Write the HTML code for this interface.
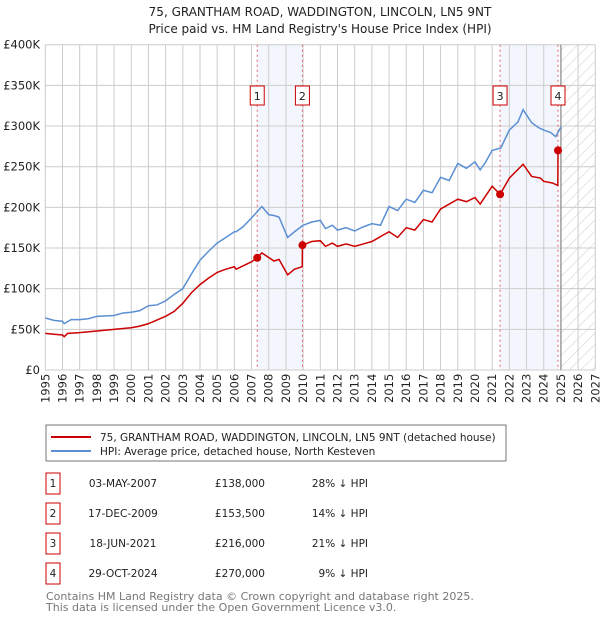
<!DOCTYPE html>
<html><head><meta charset="utf-8"><style>
body{margin:0;background:#fff;font-family:"Liberation Sans","DejaVu Sans",sans-serif;}
svg text{font-family:"DejaVu Sans","Liberation Sans",sans-serif;}
</style></head><body>
<svg id="chart" width="600" height="620" viewBox="0 0 600 620" xmlns="http://www.w3.org/2000/svg">
<defs><pattern id="hatch" width="8" height="8" patternUnits="userSpaceOnUse" patternTransform="rotate(45)"><line x1="0" y1="0" x2="0" y2="8" stroke="#ccc" stroke-width="1"/></pattern></defs>
<text x="320" y="16" text-anchor="middle" font-size="12" fill="#222">75, GRANTHAM ROAD, WADDINGTON, LINCOLN, LN5 9NT</text>
<text x="320" y="33" text-anchor="middle" font-size="12" fill="#222">Price paid vs. HM Land Registry's House Price Index (HPI)</text>
<g id="bg"></g><g id="grid"></g><g id="marks"></g><g id="axes"></g>
<g>
<rect x="46" y="425" width="460" height="36" fill="#fff" stroke="#777"/>
<line x1="51" y1="437" x2="91" y2="437" stroke="#cc0000" stroke-width="2"/>
<text x="100" y="441" font-size="10.5" fill="#222">75, GRANTHAM ROAD, WADDINGTON, LINCOLN, LN5 9NT (detached house)</text>
<line x1="51" y1="451" x2="91" y2="451" stroke="#5b8fd4" stroke-width="2"/>
<text x="100" y="455" font-size="10.5" fill="#222">HPI: Average price, detached house, North Kesteven</text>
</g>
<g id="table" font-size="10.5" fill="#222"></g>
<text x="46" y="600" font-size="11" fill="#777">Contains HM Land Registry data © Crown copyright and database right 2025.</text>
<text x="46" y="611" font-size="11" fill="#777">This data is licensed under the Open Government Licence v3.0.</text>
</svg>
<script>
const hpiYears=[1995,1995.5,1996,1996.1,1996.5,1997,1997.5,1998,1999,1999.5,2000,2000.5,2001,2001.5,2002,2002.5,2003,2003.5,2004,2004.5,2005,2005.5,2006,2006.1,2006.5,2007,2007.6,2008,2008.3,2008.6,2009.1,2009.5,2010,2010.5,2011,2011.3,2011.7,2012,2012.5,2013,2013.5,2014,2014.5,2015,2015.5,2016,2016.5,2017,2017.5,2018,2018.5,2019,2019.5,2020,2020.3,2020.6,2021,2021.5,2022,2022.5,2022.8,2023.3,2023.7,2024,2024.4,2024.7,2025];
const hpiValues=[64,61,60,57,62,62,63,66,67,70,71,73,79,80,85,93,100,118,135,146,156,163,170,170,176,187,201,191,190,188,163,170,178,182,184,174,178,172,175,171,176,180,178,201,196,210,206,221,218,237,233,254,248,256,246,255,270,273,295,305,320,304,298,295,292,287,299];
const ppYears=[1995,1995.5,1996,1996.1,1996.3,1997,1998,1999,2000,2000.5,2001,2002,2002.5,2003,2003.5,2004,2004.5,2005,2005.5,2006,2006.1,2007,2007.33,2007.6,2008.3,2008.6,2009.1,2009.5,2009.95,2009.96,2010.5,2011,2011.3,2011.7,2012,2012.5,2013,2013.5,2014,2015,2015.5,2016,2016.5,2017,2017.5,2018,2019,2019.5,2020,2020.3,2021,2021.46,2022,2022.8,2023.3,2023.8,2024,2024.5,2024.82,2024.83,2025];
const ppValues=[45,44,43,41,45,46,48,50,52,54,57,66,72,82,95,105,113,120,124,127,124,133,138,144,134,136,117,124,127,153.5,158,159,152,156,152,155,152,155,158,170,163,175,172,185,182,198,210,207,212,204,226,216,236,253,238,236,232,230,227,270,274];
const saleLabels=["1","2","3","4"];
const saleYears=[2007.33,2009.96,2021.46,2024.83];
const saleValues=[138,153.5,216,270];
const saleDates=["03-MAY-2007","17-DEC-2009","18-JUN-2021","29-OCT-2024"];
const salePrices=["£138,000","£153,500","£216,000","£270,000"];
const saleDiffs=["28% ↓ HPI","14% ↓ HPI","21% ↓ HPI","9% ↓ HPI"];
const yTicks=[0,50,100,150,200,250,300,350,400];
const yTickLabels=["£0","£50K","£100K","£150K","£200K","£250K","£300K","£350K","£400K"];
const xTicks=[1995,1996,1997,1998,1999,2000,2001,2002,2003,2004,2005,2006,2007,2008,2009,2010,2011,2012,2013,2014,2015,2016,2017,2018,2019,2020,2021,2022,2023,2024,2025,2026,2027];

const NS="http://www.w3.org/2000/svg";
const X0=45.3,X1=595.3,Y0=370,Y1=44.7;
const xs=y=>X0+(y-1995)*(X1-X0)/32;
const ys=v=>Y0-v*(Y0-Y1)/400;
function mk(tag,attrs,parent){const e=document.createElementNS(NS,tag);for(const k in attrs)e.setAttribute(k,attrs[k]);parent.appendChild(e);return e;}
const bg=document.getElementById('bg'),grid=document.getElementById('grid'),marks=document.getElementById('marks'),axes=document.getElementById('axes'),table=document.getElementById('table');
let r=mk('rect',{x:xs(saleYears[0]),y:Y1,width:xs(saleYears[1])-xs(saleYears[0]),height:Y0-Y1,fill:'#eef3fc',opacity:0.7},bg);


r=mk('rect',{x:xs(saleYears[2]),y:Y1,width:xs(saleYears[3])-xs(saleYears[2]),height:Y0-Y1,fill:'#eef3fc',opacity:0.7},bg);


r=mk('rect',{x:xs(2025),y:Y1,width:xs(2027)-xs(2025),height:Y0-Y1,fill:'url(#hatch)'},bg);


yTicks.forEach((t,i)=>{
 const l=mk('line',{x1:X0,x2:X1,y1:ys(t),y2:ys(t),stroke:'#ccc','stroke-width':1},grid);
 
 
 const tx=mk('text',{x:40,y:ys(t)+4,'text-anchor':'end','font-size':11.5,fill:'#222'},axes);
 tx.textContent=yTickLabels[i];
 
 
});
xTicks.forEach(t=>{
 const l=mk('line',{x1:xs(t),x2:xs(t),y1:Y1,y2:Y0,stroke:'#ccc','stroke-width':1},grid);
 
 
 const tx=mk('text',{x:0,y:0,'font-size':11.5,fill:'#222',transform:`translate(${xs(t)+4},${Y0+33}) rotate(-90)`},axes);
 tx.textContent=t;
 
 
});
let l=mk('line',{x1:xs(2025),x2:xs(2025),y1:Y1,y2:Y0,stroke:'#888','stroke-width':1.2},grid);


saleYears.forEach((y,i)=>{
 const v=mk('line',{x1:xs(y),x2:xs(y),y1:Y1,y2:Y0,stroke:'#e06070','stroke-width':1,'stroke-dasharray':'2,3'},marks);
 
 
});
const hp=mk('polyline',{points:hpiYears.map((y,i)=>xs(y)+','+ys(hpiValues[i])).join(' '),fill:'none',stroke:'#5b8fd4','stroke-width':1.5},marks);


const pp=mk('polyline',{points:ppYears.map((y,i)=>xs(y)+','+ys(ppValues[i])).join(' '),fill:'none',stroke:'#cc0000','stroke-width':1.5},marks);


saleYears.forEach((y,i)=>{
 const c=mk('circle',{cx:xs(y),cy:ys(saleValues[i]),r:4,fill:'#cc0000'},marks);
 
 
 const g=mk('g',{},marks);
 
 
 mk('rect',{x:xs(y)-7,y:86,width:14,height:19,fill:'#fff',stroke:'#cc0000'},g);
 const t=mk('text',{x:xs(y),y:100,'text-anchor':'middle','font-size':11,fill:'#222'},g);
 t.textContent=saleLabels[i];
 const ry=[483,513,543,573][i];
 const row=mk('g',{},table);
 
 
 mk('rect',{x:46,y:ry-10,width:14,height:21,fill:'#fff',stroke:'#cc0000'},row);
 let tt=mk('text',{x:53,y:ry+4,'text-anchor':'middle'},row);tt.textContent=saleLabels[i];
 tt=mk('text',{x:123,y:ry+4,'text-anchor':'middle'},row);tt.textContent=saleDates[i];
 tt=mk('text',{x:265,y:ry+4,'text-anchor':'end'},row);tt.textContent=salePrices[i];
 tt=mk('text',{x:368,y:ry+4,'text-anchor':'end'},row);tt.textContent=saleDiffs[i];
});
</script>
</body></html>
